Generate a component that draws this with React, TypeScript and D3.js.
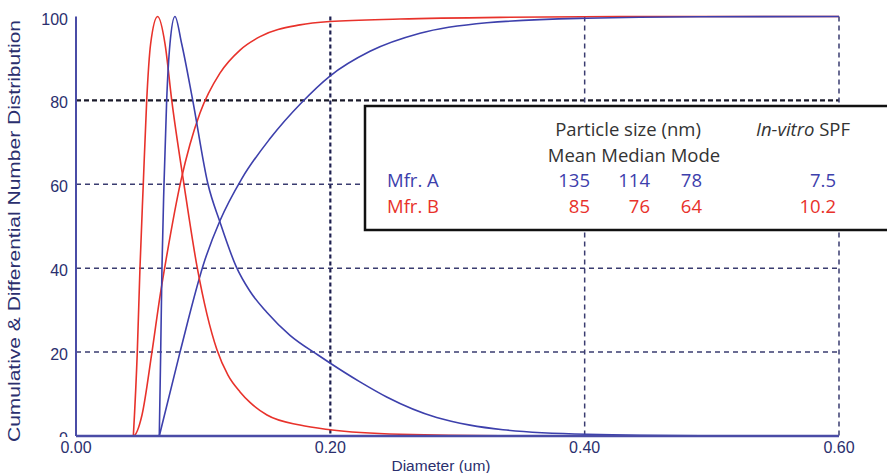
import React from "react";
import * as d3 from "d3";

// Mfr. A (blue) differential number distribution
const aDiffX = [0.0655, 0.0666, 0.0676, 0.0692, 0.0713, 0.0739, 0.0778, 0.0831, 0.0918, 0.1038, 0.1132, 0.1258, 0.1368, 0.15, 0.1683, 0.1903, 0.1997, 0.2233, 0.2443, 0.2836, 0.3098, 0.3358, 0.4016, 0.4907, 0.6];
const aDiffY = [0, 20, 40, 60, 80, 93.5, 100, 93.5, 80, 60, 51, 40.5, 34.5, 29.5, 24, 19.3, 17.4, 12.9, 9.3, 4.4, 2.6, 1.5, 0.4, 0.05, 0];
// Mfr. A cumulative
const aCumX = [0.0655, 0.0818, 0.1014, 0.1132, 0.1303, 0.1526, 0.1775, 0.1997, 0.2312, 0.2705, 0.323, 0.4016, 0.4907, 0.6];
const aCumY = [0, 20, 42, 51.3, 61.3, 70.9, 79.5, 85.8, 91.7, 96, 98.5, 99.6, 99.95, 100];
// Mfr. B (red) differential number distribution
const bDiffX = [0.0451, 0.0482, 0.0503, 0.0529, 0.0556, 0.0587, 0.0642, 0.07, 0.0753, 0.0849, 0.0954, 0.103, 0.1109, 0.1195, 0.129, 0.1368, 0.1502, 0.1761, 0.1997, 0.2548, 0.3334, 0.6];
const bDiffY = [0, 20, 40, 60, 80, 93.5, 100, 93.5, 80, 60, 40, 29, 20.5, 14.5, 10.5, 8, 5, 2.6, 1.5, 0.4, 0.05, 0];
// Mfr. B cumulative (starts with a short flat run on the axis)
const bCumX = [0.0346, 0.0451, 0.0519, 0.0595, 0.0664, 0.0708, 0.0826, 0.0896, 0.0975, 0.1132, 0.129, 0.1447, 0.1761, 0.1997, 0.2548, 0.3334, 0.4514, 0.6];
const bCumY = [0, 0, 5, 19.5, 34, 42, 61, 69.5, 77, 86.5, 92, 95.2, 98, 98.8, 99.4, 99.8, 100, 100];

const xTicks = [0, 0.2, 0.4, 0.6];
const yTicks = [0, 20, 40, 60, 80, 100];
const hGrid = [20, 40, 60, 80];
const vGrid = [0.2, 0.4, 0.6];

// table in the box
const tableRows = [
  { name: "Mfr. A", mean: "135", median: "114", mode: "78", spf: "7.5" },
  { name: "Mfr. B", mean: "85", median: "76", mode: "64", spf: "10.2" },
];

const BLUE = "#3d40ac";
const RED = "#e8322b";
const AXIS = "#4a4ca6";
const INK = "#2b2f6e";

export default function App() {
  const width = 887, height = 473;
  const x = d3.scaleLinear().domain([0, 0.6]).range([76, 839]);
  const y = d3.scaleLinear().domain([0, 100]).range([436, 16.5]);

  const line = d3.line<[number, number]>()
    .x(d => x(d[0]))
    .y(d => y(d[1]))
    .curve(d3.curveMonotoneX);

  const zip = (xs: number[], ys: number[]) => xs.map((v, i) => [v, ys[i]] as [number, number]);

  const series = [
    { d: zip(bCumX, bCumY), c: RED },
    { d: zip(aCumX, aCumY), c: BLUE },
    { d: zip(bDiffX, bDiffY), c: RED },
    { d: zip(aDiffX, aDiffY), c: BLUE },
  ];

  const legendFont = "'Open Sans', sans-serif";
  const colEnds = [590, 650, 702, 836];

  return (
    <svg width={width} height={height} style={{ position: "absolute", left: 0, top: 0, background: "#fff" }}
      fontFamily="'Liberation Sans', Arial, sans-serif">
      <defs>
        <clipPath id="ylab">
          <rect x={0} y={0} width={75} height={y(0) + 1} />
        </clipPath>
      </defs>
      {/* grid */}
      {hGrid.map(v => (
        <line key={"h" + v} x1={x(0)} x2={x(0.6)} y1={y(v)} y2={y(v)}
          stroke={v === 80 ? "#1a1a2a" : "#3a3c70"} strokeWidth={v === 80 ? 2.4 : 1.5}
          strokeDasharray={v === 80 ? "5,3" : "5,4"} />
      ))}
      {vGrid.map(v => (
        <line key={"v" + v} x1={x(v)} x2={x(v)} y1={y(100)} y2={y(0)}
          stroke={v === 0.2 ? "#1e2050" : "#3a3c70"} strokeWidth={v === 0.2 ? 2.2 : 1.5}
          strokeDasharray={v === 0.2 ? "4,3" : "5,4"} />
      ))}

      {/* curves */}
      {series.map((s, i) => (
        <path key={i} d={line(s.d) || ""} fill="none" stroke={s.c} strokeWidth={1.6} />
      ))}

      {/* axes */}
      <line x1={x(0)} x2={x(0)} y1={y(100)} y2={y(0)} stroke={AXIS} strokeWidth={2} />
      <line x1={x(0)} x2={x(0.6)} y1={y(0)} y2={y(0)} stroke={AXIS} strokeWidth={2.5} />

      <g clipPath="url(#ylab)">
        {yTicks.map(v => (
          <text key={"yt" + v} x={68} y={y(v) + 8} textAnchor="end" fontSize={16} fill={INK}>{v}</text>
        ))}
      </g>
      {xTicks.map(v => (
        <text key={"xt" + v} x={x(v)} y={453} textAnchor="middle" fontSize={16} fill={INK}>{d3.format(".2f")(v)}</text>
      ))}
      <text x={441} y={471} textAnchor="middle" fontSize={15.5} fill={INK}>Diameter (um)</text>
      <text transform={`translate(20,231) rotate(-90)`} textAnchor="middle" fontSize={16} fill={INK}
        textLength={422} lengthAdjust="spacingAndGlyphs">Cumulative &amp; Differential Number Distribution</text>

      {/* info box */}
      <rect x={365} y={106} width={540} height={124} fill="#fff" stroke="#111" strokeWidth={2.5} />
      <g fontFamily={legendFont} fontSize={18.5}>
        <text x={628} y={136} textAnchor="middle" fill="#333">Particle size (nm)</text>
        <text x={803} y={136} textAnchor="middle" fill="#333">
          <tspan fontStyle="italic">In-vitro</tspan> SPF
        </text>
        <text x={634} y={162} textAnchor="middle" fill="#333">Mean Median Mode</text>
        {tableRows.map((r, i) => {
          const yy = 187 + i * 25.5;
          const col = i === 0 ? BLUE : RED;
          const vals = [r.mean, r.median, r.mode, r.spf];
          return (
            <g key={r.name} fill={col}>
              <text x={387} y={yy}>{r.name}</text>
              {vals.map((v, j) => (
                <text key={j} x={colEnds[j]} y={yy} textAnchor="end">{v}</text>
              ))}
            </g>
          );
        })}
      </g>
    </svg>
  );
}
